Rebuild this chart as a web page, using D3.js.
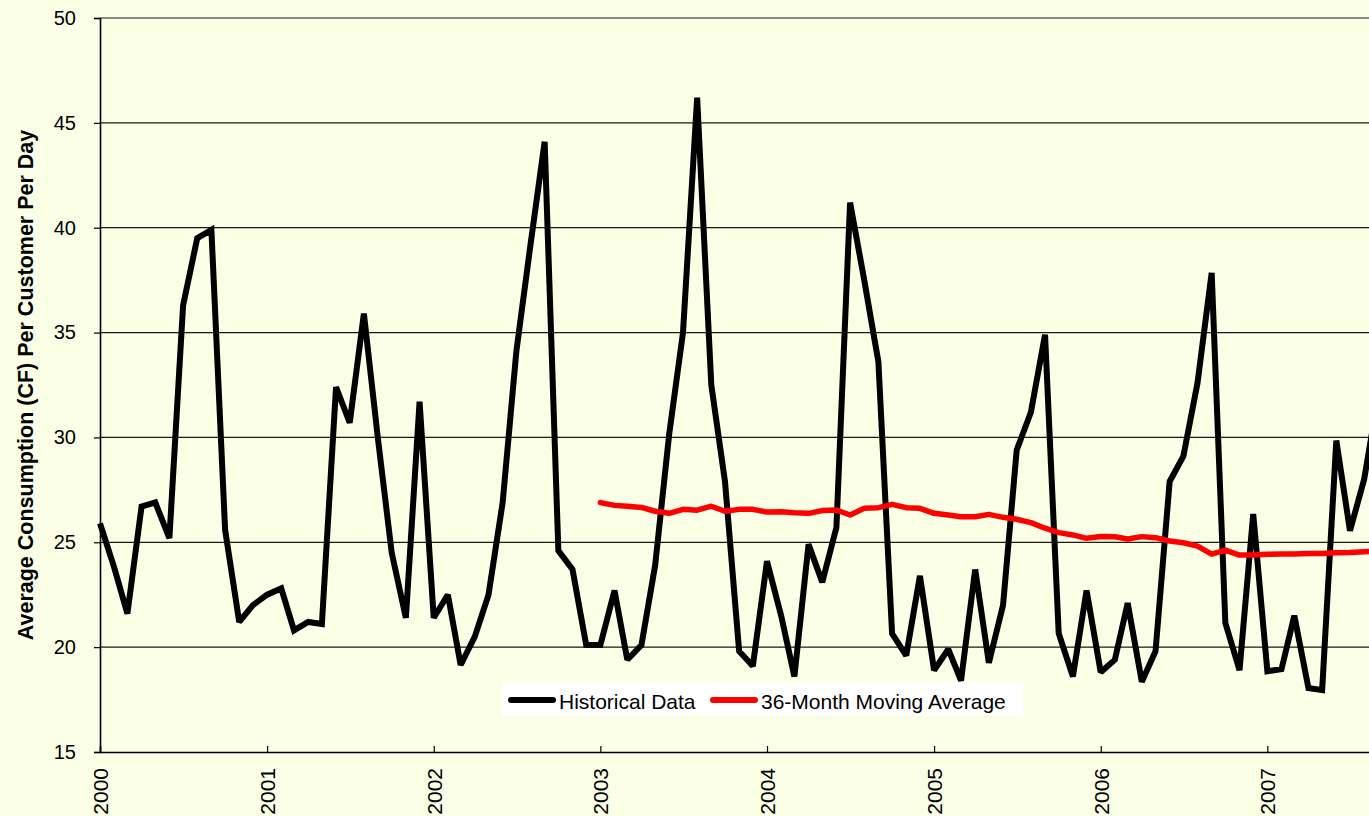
<!DOCTYPE html>
<html>
<head>
<meta charset="utf-8">
<script src="https://cdn.jsdelivr.net/npm/d3@7"></script>
<style>
  html, body { margin: 0; padding: 0; background: #FAFFE6; overflow: hidden; }
  svg { display: block; }
  text { font-family: "Liberation Sans", Arial, sans-serif; fill: #000; }
</style>
</head>
<body>
<svg id="chart" width="1369" height="816"></svg>
<script>
// ---- data (monthly, starting January 2000) ----
const startYear = 2000;
const historical = [
  25.9, 23.8, 21.6, 26.7, 26.9, 25.2, 36.3, 39.5, 39.9, 25.6, 21.2, 22.0,
  22.5, 22.8, 20.8, 21.2, 21.1, 32.4, 30.7, 35.9, 29.9, 24.5, 21.4, 31.7,
  21.4, 22.5, 19.15, 20.5, 22.5, 26.9, 34.1, 39.2, 44.1, 24.6, 23.7, 20.1,
  20.1, 22.7, 19.4, 20.1, 23.9, 30.2, 35.0, 46.2, 32.5, 27.9, 19.8, 19.1,
  24.1, 21.5, 18.6, 24.9, 23.1, 25.7, 41.2, 37.5, 33.6, 20.65, 19.6, 23.4,
  18.9, 19.9, 18.4, 23.7, 19.25, 22.0, 29.4, 31.2, 34.9, 20.65, 18.6, 22.7,
  18.8, 19.4, 22.1, 18.35, 19.8, 27.9, 29.1, 32.6, 37.85, 21.15, 18.9, 26.35,
  18.85, 18.95, 21.5, 18.05, 17.95, 29.85, 25.55, 28.0, 32.0
];
const movingAvgStart = 36; // month index of first moving-average value (Jan 2003)
const movingAverage = [
  26.89, 26.76, 26.72, 26.66, 26.48, 26.38, 26.57, 26.53, 26.72, 26.48, 26.57, 26.57,
  26.44, 26.46, 26.41, 26.38, 26.51, 26.54, 26.30, 26.62, 26.65, 26.81, 26.65, 26.62,
  26.38, 26.30, 26.22, 26.22, 26.33, 26.19, 26.10, 25.94, 25.67, 25.46, 25.35, 25.19,
  25.28, 25.26, 25.16, 25.27, 25.22, 25.06, 24.98, 24.82, 24.44, 24.63, 24.39, 24.39,
  24.43, 24.44, 24.44, 24.47, 24.47, 24.50, 24.51, 24.55, 24.58
];
const yTicks = [15, 20, 25, 30, 35, 40, 45, 50];
const yearTicks = [2000, 2001, 2002, 2003, 2004, 2005, 2006, 2007];
const seriesNames = ["Historical Data", "36-Month Moving Average"];
const seriesColors = ["#000000", "#FF0000"];
const yTitle = "Average Consumption (CF) Per Customer Per Day";

// ---- layout ----
const svg = d3.select("#chart");
const W = 1369, H = 816;
const plotLeft = 100, plotTop = 18, plotBottom = 752;
const pxPerYear = 166.75;

const x = d3.scaleTime()
  .domain([new Date(2000, 0, 1), new Date(2008, 0, 1)])
  .range([plotLeft, plotLeft + 8 * pxPerYear]);
const y = d3.scaleLinear().domain([15, 50]).range([plotBottom, plotTop]);

const monthDate = i => new Date(startYear, i, 1);
const histData = historical.map((v, i) => ({ d: monthDate(i), v }));
const maData = movingAverage.map((v, i) => ({ d: monthDate(movingAvgStart + i), v }));

svg.append("rect").attr("width", W).attr("height", H).attr("fill", "#FAFFE6");

// gridlines
svg.append("g")
  .selectAll("line")
  .data(yTicks.filter(t => t !== 15))
  .join("line")
  .attr("x1", plotLeft).attr("x2", W)
  .attr("y1", d => y(d)).attr("y2", d => y(d))
  .attr("stroke", "#1a1a1a").attr("stroke-width", 1.2);

// y axis
const yAxis = d3.axisLeft(y).tickValues(yTicks).tickSize(6).tickPadding(18);
const gy = svg.append("g").attr("transform", `translate(${plotLeft},0)`).call(yAxis);
gy.select(".domain").attr("stroke", "#000").attr("stroke-width", 1.6);
gy.selectAll(".tick line").attr("stroke", "#000").attr("stroke-width", 1.2);
gy.selectAll(".tick text")
  .style("font-family", '"Liberation Sans", Arial, sans-serif')
  .style("font-size", "20px").attr("fill", "#000");

// x axis
const xAxis = d3.axisBottom(x)
  .tickValues(yearTicks.map(yr => new Date(yr, 0, 1)))
  .tickSize(-6)
  .tickFormat(d3.timeFormat("%Y"));
const gx = svg.append("g").attr("transform", `translate(0,${plotBottom})`).call(xAxis);
gx.select(".domain").attr("stroke", "#000").attr("stroke-width", 1.6);
gx.selectAll(".tick line").attr("stroke", "#000").attr("stroke-width", 1.2);
gx.selectAll(".tick text")
  .style("font-family", '"Liberation Sans", Arial, sans-serif')
  .style("font-size", "21px").attr("fill", "#000")
  .attr("text-anchor", "end")
  .attr("dy", null)
  .attr("dominant-baseline", "central")
  .attr("transform", "translate(0,16) rotate(-90)")
  .attr("x", 0).attr("y", 0);

// y title
svg.append("text")
  .attr("transform", `translate(33,${(plotTop + plotBottom) / 2}) rotate(-90)`)
  .attr("text-anchor", "middle")
  .style("font-size", "21.5px")
  .style("font-weight", "bold")
  .text(yTitle);

// lines
const line = d3.line().x(d => x(d.d)).y(d => y(d.v));
svg.append("path").datum(histData)
  .attr("d", line).attr("fill", "none")
  .attr("stroke", seriesColors[0]).attr("stroke-width", 6)
  .attr("stroke-linejoin", "miter").attr("stroke-miterlimit", 2);
svg.append("path").datum(maData)
  .attr("d", line).attr("fill", "none")
  .attr("stroke", seriesColors[1]).attr("stroke-width", 5.5)
  .attr("stroke-linejoin", "round").attr("stroke-linecap", "round");

// legend
const lg = svg.append("g");
lg.append("rect").attr("x", 502).attr("y", 683).attr("width", 521).attr("height", 33).attr("fill", "#fff");
const items = [
  { name: seriesNames[0], color: seriesColors[0], x0: 508 },
  { name: seriesNames[1], color: seriesColors[1], x0: 710 }
];
items.forEach(it => {
  lg.append("line").attr("x1", it.x0 + 3).attr("x2", it.x0 + 45)
    .attr("y1", 700).attr("y2", 700)
    .attr("stroke", it.color).attr("stroke-width", 6).attr("stroke-linecap", "round");
  lg.append("text").attr("x", it.x0 + 51).attr("y", 701)
    .attr("dominant-baseline", "central")
    .style("font-size", "21px").text(it.name);
});
</script>
</body>
</html>
